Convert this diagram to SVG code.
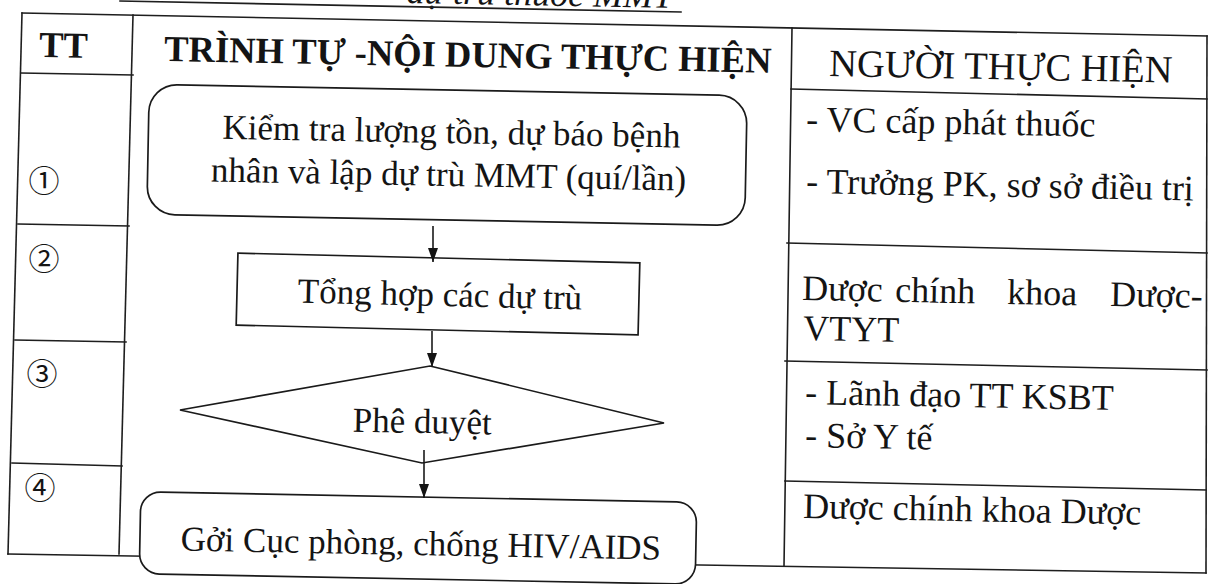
<svg xmlns="http://www.w3.org/2000/svg" width="1211" height="584" viewBox="0 0 1211 584">
<defs>
<style>
.ln{stroke:#1e1e1e;stroke-width:1.6;fill:none;stroke-linecap:square}
.sh{stroke:#1a1a1a;stroke-width:1.7;fill:#fff}
.t{font-family:"Liberation Serif","Times New Roman",serif;font-size:35px;fill:#141414}
.tr{font-family:"Liberation Serif","Times New Roman",serif;font-size:36px;fill:#141414}
.hb{font-family:"Liberation Serif","Times New Roman",serif;font-size:36.5px;font-weight:bold;fill:#141414}
.hr{font-family:"Liberation Serif","Times New Roman",serif;font-size:38.5px;fill:#141414}
.cn{font-family:"Noto Sans CJK JP","Noto Sans CJK SC","DejaVu Sans",sans-serif;font-size:31px;fill:#141414}
.ti{font-family:"Liberation Serif","Times New Roman",serif;font-size:36px;font-style:italic;fill:#141414}
.cx{stroke:#1a1a1a;stroke-width:1.6;fill:none}
</style>
<marker id="ah" viewBox="0 0 10 14" markerWidth="10" markerHeight="14" refX="5" refY="14" orient="0" markerUnits="userSpaceOnUse">
<path d="M0,0 L10,0 L5,14 z" fill="#141414"/>
</marker>
</defs>
<rect width="1211" height="584" fill="#ffffff"/>

<g id="title">
<text class="ti" x="673" y="8" text-anchor="end" transform="rotate(1.1 673 8)">dự trù thuốc MMT</text>
<line class="ln" x1="120" y1="1" x2="681" y2="12"/>
</g>

<g id="table">
<line class="ln" x1="22" y1="13" x2="1207" y2="36"/>
<line class="ln" x1="22" y1="13" x2="8" y2="554"/>
<line class="ln" x1="8" y1="554" x2="1206" y2="573"/>
<line class="ln" x1="1207" y1="36" x2="1206" y2="573"/>
<line class="ln" x1="133" y1="15" x2="119" y2="554"/>
<line class="ln" x1="792" y1="28" x2="784" y2="566"/>
<line class="ln" x1="21" y1="73" x2="133" y2="75"/>
<line class="ln" x1="18" y1="224" x2="129" y2="226"/>
<line class="ln" x1="15" y1="340" x2="126" y2="342"/>
<line class="ln" x1="12" y1="463" x2="122" y2="466"/>
<line class="ln" x1="791" y1="89" x2="1207" y2="99"/>
<line class="ln" x1="787" y1="243" x2="1207" y2="253"/>
<line class="ln" x1="785" y1="361" x2="1207" y2="370"/>
<line class="ln" x1="785" y1="481" x2="1206" y2="490"/>
</g>

<g id="header">
<text class="hb" x="39" y="57" transform="rotate(1.1 39 57)">TT</text>
<text class="hb" x="164" y="61" transform="rotate(1.1 164 61)">TRÌNH TỰ -NỘI DUNG THỰC HIỆN</text>
<text class="hr" x="829" y="76" transform="rotate(1.1 829 76)">NGƯỜI THỰC HIỆN</text>
</g>

<g id="steps">
<text class="cn" x="44" y="192" text-anchor="middle">①</text>
<text class="cn" x="44" y="270" text-anchor="middle">②</text>
<text class="cn" x="42" y="385" text-anchor="middle">③</text>
<text class="cn" x="40" y="499" text-anchor="middle">④</text>
</g>

<g id="node1">
<g transform="rotate(1.1 447 155)">
<rect class="sh" x="148" y="90" width="598" height="130" rx="28" ry="28"/>
<text class="t" x="451" y="143" text-anchor="middle">Kiểm tra lượng tồn, dự báo bệnh</text>
<text class="t" x="449" y="186" text-anchor="middle">nhân và lập dự trù MMT (quí/lần)</text>
</g>
</g>

<g id="node2">
<g transform="rotate(1.4 438 294)">
<rect class="sh" x="237" y="258" width="402" height="72"/>
<text class="t" x="440" y="306" text-anchor="middle">Tổng hợp các dự trù</text>
</g>
</g>

<g id="node3">
<polygon class="sh" points="430,366 664,423 422,463 180,410"/>
<text class="t" x="422" y="433" text-anchor="middle" transform="rotate(1.1 422 433)">Phê duyệt</text>
</g>

<g id="node4">
<g transform="rotate(1.1 418 538)">
<rect class="sh" x="140" y="497" width="556" height="82" rx="20" ry="20"/>
<text class="t" x="421" y="555" text-anchor="middle">Gởi Cục phòng, chống HIV/AIDS</text>
</g>
</g>

<g id="performers">
<text class="tr" x="806" y="131" transform="rotate(1.1 806 131)">- VC cấp phát thuốc</text>
<text class="tr" x="806" y="193" transform="rotate(1.1 806 193)">- Trưởng PK, sơ sở điều trị</text>
<text class="tr" y="300" transform="rotate(1.1 802 300)"><tspan x="802">Dược</tspan><tspan x="895">chính</tspan><tspan x="1007">khoa</tspan><tspan x="1110">Dược-</tspan></text>
<text class="tr" x="803" y="340" transform="rotate(1.1 803 340)">VTYT</text>
<text class="tr" x="805" y="404" transform="rotate(1.1 805 404)">- Lãnh đạo TT KSBT</text>
<text class="tr" x="805" y="447" transform="rotate(1.1 805 447)">- Sở Y tế</text>
<text class="tr" x="803" y="518" transform="rotate(1.1 803 518)">Dược chính khoa Dược</text>
</g>

<g id="connectors">
<line class="cx" x1="433" y1="226" x2="433" y2="262" marker-end="url(#ah)"/>
<line class="cx" x1="432" y1="331" x2="432" y2="367" marker-end="url(#ah)"/>
<line class="cx" x1="424" y1="450" x2="424" y2="498" marker-end="url(#ah)"/>
</g>
</svg>
